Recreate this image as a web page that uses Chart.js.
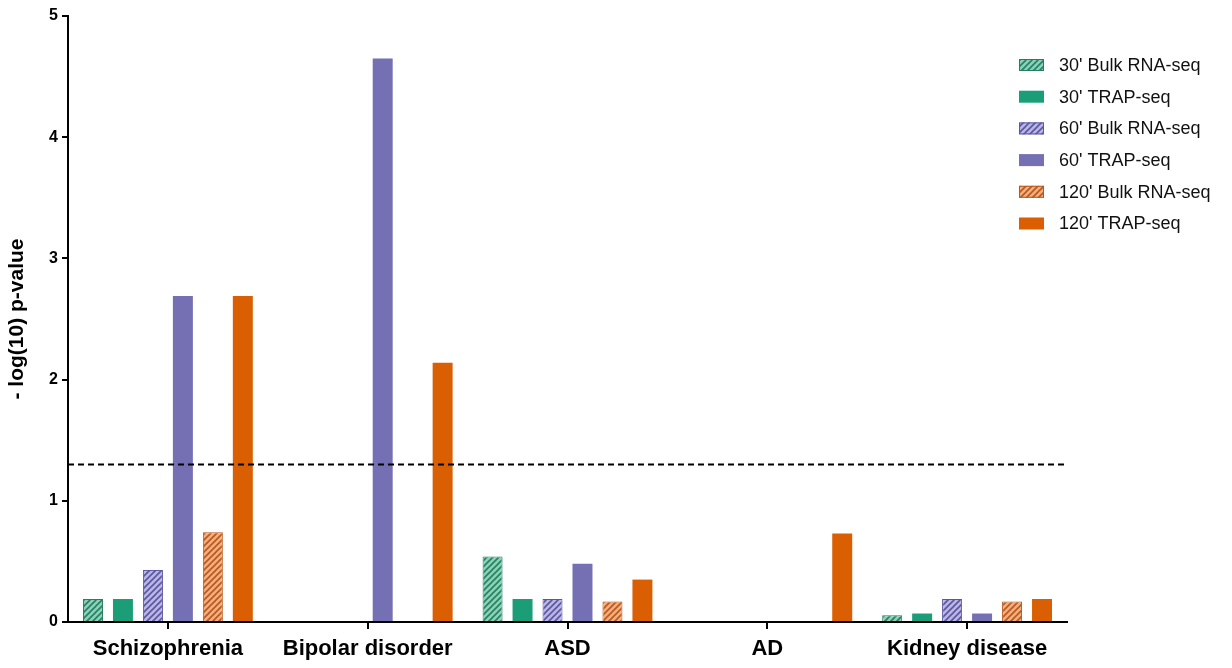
<!DOCTYPE html>
<html>
<head>
<meta charset="utf-8">
<script src="https://cdn.jsdelivr.net/npm/chart.js@4"></script>
<style>
  html, body { margin: 0; padding: 0; background: #fff; }
  #wrap { width: 1232px; height: 668px; }
</style>
</head>
<body>
<div id="wrap"><canvas id="chart" width="1232" height="668"></canvas></div>
<script>
// Data
var categories = ["Schizophrenia", "Bipolar disorder", "ASD", "AD", "Kidney disease"];
var seriesLabels = ["30' Bulk RNA-seq", "30' TRAP-seq", "60' Bulk RNA-seq", "60' TRAP-seq", "120' Bulk RNA-seq", "120' TRAP-seq"];
var bulk30 = [0.19, 0, 0.54, 0, 0.055];
var trap30 = [0.19, 0, 0.19, 0, 0.07];
var bulk60 = [0.43, 0, 0.19, 0, 0.19];
var trap60 = [2.69, 4.65, 0.48, 0, 0.07];
var bulk120 = [0.74, 0, 0.17, 0, 0.17];
var trap120 = [2.69, 2.14, 0.35, 0.73, 0.19];
var yTicks = [0, 1, 2, 3, 4, 5];
var threshold = 1.3;

var FONT = "'Liberation Sans', Arial, sans-serif";

// hatched fill for the bulk series
function hatch(bg, line) {
    var c = document.createElement("canvas");
    c.width = 6; c.height = 6;
    var g = c.getContext("2d");
    g.fillStyle = bg;
    g.fillRect(0, 0, 6, 6);
    g.strokeStyle = line;
    g.lineWidth = 1.6;
    g.beginPath();
    g.moveTo(-1, 7); g.lineTo(7, -1);
    g.moveTo(-4, 4); g.lineTo(4, -4);
    g.moveTo(2, 10); g.lineTo(10, 2);
    g.stroke();
    return g.createPattern(c, "repeat");
}

var GREEN = "#1b9e77", PURPLE = "#7570b3", ORANGE = "#d95f02";
var styles = [
    { fill: hatch("#86d3b8", "#2b7d62"), border: "#2b7d62", bw: 1 },
    { fill: GREEN, border: GREEN, bw: 0 },
    { fill: hatch("#bab6e2", "#5b56a2"), border: "#5b56a2", bw: 1 },
    { fill: PURPLE, border: PURPLE, bw: 0 },
    { fill: hatch("#f2ae80", "#b8581a"), border: "#b8581a", bw: 1 },
    { fill: ORANGE, border: ORANGE, bw: 0 }
];
var series = [bulk30, trap30, bulk60, trap60, bulk120, trap120];

var datasets = series.map(function (vals, i) {
    return {
        label: seriesLabels[i],
        data: vals,
        backgroundColor: styles[i].fill,
        borderColor: styles[i].border,
        borderWidth: styles[i].bw,
        borderSkipped: "bottom",
        categoryPercentage: 0.9,
        barPercentage: 0.667
    };
});

// dashed significance line + legend inside the plot
var extras = {
    id: "extras",
    afterDatasetsDraw: function (chart) {
        var ctx = chart.ctx, area = chart.chartArea;
        var y = chart.scales.y.getPixelForValue(threshold);
        ctx.save();
        ctx.strokeStyle = "#000";
        ctx.lineWidth = 2;
        ctx.setLineDash([6, 4]);
        ctx.beginPath();
        ctx.moveTo(area.left, y);
        ctx.lineTo(area.right - 3, y);
        ctx.stroke();
        ctx.restore();

        ctx.save();
        ctx.font = "18px " + FONT;
        ctx.textBaseline = "middle";
        chart.data.datasets.forEach(function (ds, i) {
            var cy = 65 + i * 31.7;
            ctx.fillStyle = ds.backgroundColor;
            ctx.fillRect(1019, cy - 6, 25, 12);
            if (ds.borderWidth) {
                ctx.strokeStyle = ds.borderColor;
                ctx.lineWidth = 1;
                ctx.strokeRect(1019.5, cy - 5.5, 24, 11);
            }
            ctx.fillStyle = "#111";
            ctx.fillText(ds.label, 1059, cy + 1);
        });
        ctx.restore();
    }
};

new Chart(document.getElementById("chart"), {
    type: "bar",
    data: { labels: categories, datasets: datasets },
    plugins: [extras],
    options: {
        responsive: false,
        animation: false,
        layout: { padding: { top: 16, right: 165, left: 0, bottom: 0 } },
        plugins: { legend: { display: false }, tooltip: { enabled: false } },
        scales: {
            x: {
                grid: { display: true, drawOnChartArea: false, offset: false, color: "#000", lineWidth: 2, tickLength: 7 },
                border: { display: true, color: "#000", width: 2 },
                ticks: { color: "#000", padding: 7, font: { family: FONT, size: 22, weight: "bold" } },
                afterFit: function (s) { s.height = 46; }
            },
            y: {
                min: 0, max: 5,
                afterBuildTicks: function (s) { s.ticks = yTicks.map(function (v) { return { value: v }; }); },
                grid: { drawOnChartArea: false, color: "#000", lineWidth: 2, tickLength: 6 },
                border: { display: true, color: "#000", width: 2 },
                ticks: { color: "#000", padding: 4, font: { family: FONT, size: 16, weight: "bold" } },
                title: { display: true, text: "- log(10) p-value", color: "#000", padding: { top: 5, bottom: 0 }, font: { family: FONT, size: 21, weight: "bold" } },
                afterFit: function (s) { s.width = 68; }
            }
        }
    }
});
</script>
</body>
</html>
